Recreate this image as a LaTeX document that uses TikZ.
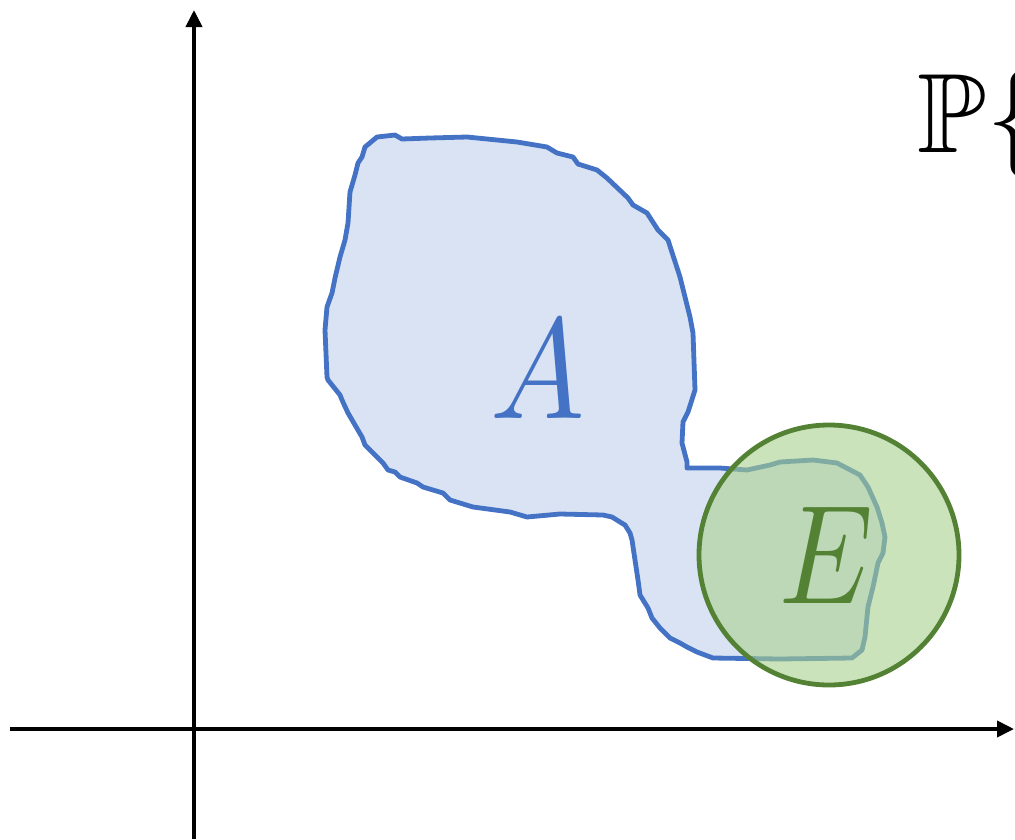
\documentclass[tikz,border=0pt]{standalone}
\usepackage{amssymb}
\usepackage{graphicx}
\usetikzlibrary{arrows.meta}
\definecolor{blobfill}{HTML}{DAE3F3}
\definecolor{blobline}{HTML}{4472C4}
\definecolor{circfill}{HTML}{A9D18E}
\definecolor{circline}{HTML}{548235}
\tikzset{
  axis/.style={line width=3.8pt, -{Triangle[width=16pt,length=17pt]}},
  blob/.style={fill=blobfill, draw=blobline, line width=4.8pt, line join=round},
  evcirc/.style={circle, minimum size=260pt, inner sep=0pt, fill=circfill, fill opacity=0.6, draw=circline, draw opacity=1, line width=4.8pt},
  biglabel/.style={anchor=base, inner sep=0pt}
}
\begin{document}
\begin{tikzpicture}[x=1pt,y=-1pt]
\useasboundingbox (0,0) rectangle (1015,839);
\clip (0,0) rectangle (1015,839);
% axes
\coordinate (xs) at (10,729);
\coordinate (xe) at (1014,729);
\coordinate (ys) at (194,839);
\coordinate (ye) at (194,10);
\draw[axis] (xs) -- (xe);
\draw[axis] (ys) -- (ye);
% blob A
\draw[blob] (365,147) -- (377,137) -- (395,135) -- (402,139) -- (430,138) -- (467,137) -- (517,142) -- (547,147) -- (557,153) -- (573,157) -- (578,164) -- (597,170) -- (607,178) -- (628,198) -- (633,205) -- (647,213) -- (658,230) -- (668,240) -- (680,277) -- (690,317) -- (693,333) -- (695,390) -- (688,412) -- (683,422) -- (682,443) -- (687,462) -- (687,468) -- (720,468) -- (747,470) -- (770,465) -- (780,462) -- (813,460) -- (837,463) -- (860,475) -- (868,487) -- (877,507) -- (882,523) -- (885,537) -- (883,553) -- (878,563) -- (873,587) -- (868,607) -- (865,637) -- (862,650) -- (852,658) -- (780,659) -- (713,658) -- (697,652) -- (687,647) -- (680,643) -- (670,638) -- (660,628) -- (652,618) -- (648,608) -- (640,595) -- (638,580) -- (635,560) -- (632,540) -- (630,533) -- (625,525) -- (620,522) -- (612,517) -- (603,515) -- (560,514) -- (527,517) -- (510,512) -- (473,507) -- (450,500) -- (443,493) -- (423,487) -- (417,483) -- (400,477) -- (395,472) -- (388,470) -- (383,463) -- (365,445) -- (362,437) -- (348,413) -- (342,400) -- (340,395) -- (328,380) -- (327,377) -- (325,330) -- (327,307) -- (332,293) -- (335,278) -- (340,257) -- (345,240) -- (348,223) -- (350,192) -- (355,175) -- (358,163) -- (362,157) -- cycle;
\node[biglabel, text=blobline] (A) at (538,418) {\scalebox{12.6}[14.3]{$A$}};
% event circle E
\node[evcirc] (Ecirc) at (829,555) {};
\node[biglabel, text=circline] (E) at (826,603) {\scalebox{11.8}[14.1]{$E$}};
% probability text
\node[anchor=base west, inner sep=0pt] (P) at (917,152) {\scalebox{11.3}{$\mathbb{P}\{$}};
\end{tikzpicture}
\end{document}
